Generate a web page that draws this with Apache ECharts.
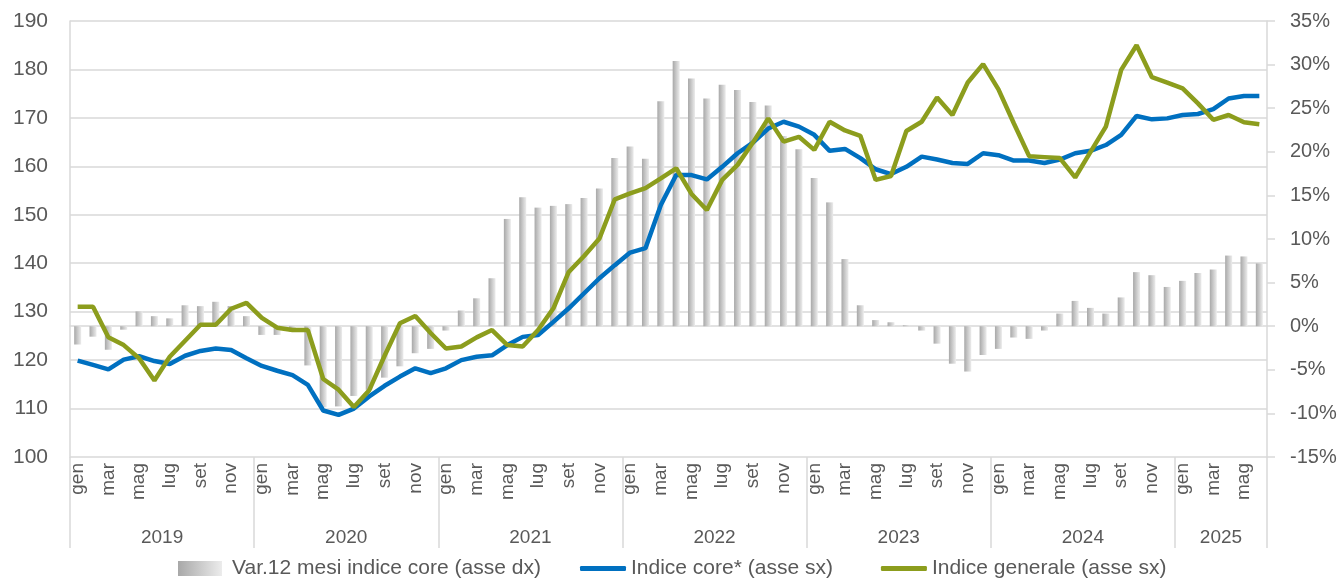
<!DOCTYPE html>
<html>
<head>
<meta charset="utf-8">
<script src="https://cdn.jsdelivr.net/npm/echarts@6/dist/echarts.min.js"></script>
<style>
  html, body { margin: 0; padding: 0; background: #fff; }
  #chart { width: 1342px; height: 581px; }
</style>
</head>
<body>
<div id="chart"></div>
<script>
// mesi (gen 2019 - giu 2025)
const monthNames = ['gen', 'feb', 'mar', 'apr', 'mag', 'giu', 'lug', 'ago', 'set', 'ott', 'nov', 'dic'];
const years = ['2019', '2020', '2021', '2022', '2023', '2024', '2025'];
const monthsPerYear = [12, 12, 12, 12, 12, 12, 6];

// Var.12 mesi indice core (asse dx), %
const varCore = [
  -2.1, -1.2, -2.7, -0.4, 1.7, 1.15, 0.9, 2.4, 2.3, 2.8, 2.3, 1.15,
  -1.0, -1.0, -0.6, -4.5, -9.3, -9.2, -8.0, -7.3, -5.9, -4.6, -3.1, -2.6,
  -0.5, 1.8, 3.2, 5.5, 12.3, 14.8, 13.6, 13.8, 14.0, 14.7, 15.8, 19.3,
  20.6, 19.2, 25.8, 30.4, 28.4, 26.1, 27.7, 27.1, 25.7, 25.3, 21.8, 20.3,
  17.0, 14.2, 7.7, 2.4, 0.7, 0.45, 0.1, -0.5, -2.0, -4.3, -5.2, -3.3,
  -2.6, -1.3, -1.45, -0.5, 1.45, 2.9, 2.1, 1.45, 3.3, 6.2, 5.85, 4.5,
  5.2, 6.1, 6.5, 8.1, 8.0, 7.2
];
// Indice core* (asse sx)
const indiceCore = [
  119.9, 119.0, 118.1, 120.1, 120.8, 119.8, 119.2, 120.9, 121.9, 122.4, 122.1, 120.4,
  118.8, 117.8, 116.9, 114.9, 109.6, 108.7, 110.0, 112.5, 114.7, 116.6, 118.3, 117.3,
  118.3, 120.0, 120.7, 121.0, 123.1, 124.8, 125.2, 127.9, 130.7, 133.8, 136.9, 139.6,
  142.2, 143.1, 152.0, 158.2, 158.2, 157.3, 159.9, 162.7, 164.9, 167.8, 169.2, 168.2,
  166.5, 163.2, 163.6, 161.7, 159.4, 158.4, 159.9, 162.0, 161.4, 160.7, 160.5, 162.7,
  162.3, 161.2, 161.2, 160.7, 161.4, 162.7, 163.2, 164.4, 166.5, 170.4, 169.7, 169.9,
  170.6, 170.8, 171.8, 174.0, 174.5, 174.5
];
// Indice generale (asse sx)
const indiceGenerale = [
  131.0, 131.0, 124.7, 123.1, 120.4, 115.8, 120.7, 124.0, 127.3, 127.3, 130.6, 131.8,
  128.7, 126.7, 126.2, 126.2, 116.1, 113.9, 110.3, 113.8, 120.9, 127.6, 129.1, 125.6,
  122.4, 122.8, 124.7, 126.2, 123.1, 122.8, 126.2, 130.7, 138.2, 141.5, 145.1, 153.2,
  154.4, 155.5, 157.5, 159.6, 154.3, 151.0, 157.2, 160.3, 164.9, 169.9, 165.1, 166.1,
  163.4, 169.2, 167.4, 166.3, 157.2, 158.0, 167.3, 169.2, 174.2, 170.6, 177.3, 181.1,
  175.9, 168.9, 162.1, 161.9, 161.7, 157.7, 163.0, 168.2, 179.9, 185.0, 178.4, 177.3,
  176.1, 173.0, 169.6, 170.6, 169.1, 168.7
];

const categories = [];
const yearBounds = [0];
const yearMids = [];
monthsPerYear.forEach((n, y) => {
  for (let m = 0; m < n; m++) categories.push(monthNames[m]);
  yearMids.push(yearBounds[y] + n / 2);
  yearBounds.push(yearBounds[y] + n);
});

const txt = '#595959';
const gridCol = '#d9d9d9';
const font = "'Liberation Sans', Arial, sans-serif";

const barColor = new echarts.graphic.LinearGradient(0, 0, 1, 0, [
  { offset: 0, color: '#a8a8a8' },
  { offset: 1, color: '#ececec' }
]);

const chart = echarts.init(document.getElementById('chart'));
chart.setOption({
  animation: false,
  textStyle: { fontFamily: font },
  grid: { left: 70, right: 75, top: 21, bottom: 124 },
  legend: [
    {
      left: 178, top: 558, padding: 0,
      itemWidth: 44, itemHeight: 15,
      textStyle: { color: txt, fontSize: 21, padding: [0, 0, 0, 5] },
      data: [{ name: 'Var.12 mesi indice core (asse dx)', icon: 'rect' }]
    },
    {
      left: 580, top: 558, padding: 0,
      itemWidth: 46, itemHeight: 5, itemGap: 48,
      textStyle: { color: txt, fontSize: 21 },
      data: [
        { name: 'Indice core* (asse sx)', icon: 'roundRect' },
        { name: 'Indice generale (asse sx)', icon: 'roundRect' }
      ]
    }
  ],
  xAxis: [
    {
      type: 'category',
      data: categories,
      boundaryGap: true,
      axisLine: { show: true, lineStyle: { color: gridCol, width: 1.5 } },
      axisTick: { show: false },
      axisLabel: {
        interval: 1, rotate: 90, margin: 6,
        color: txt, fontSize: 19
      },
      splitLine: { show: false }
    },
    {
      type: 'value',
      position: 'bottom',
      min: 0, max: categories.length,
      axisLine: { show: false },
      axisTick: {
        show: true, length: 91, customValues: yearBounds,
        lineStyle: { color: gridCol, width: 1.5 }
      },
      axisLabel: {
        show: true, customValues: yearMids, margin: 71,
        color: txt, fontSize: 19,
        formatter: v => years[yearMids.indexOf(v)]
      },
      splitLine: { show: false }
    }
  ],
  yAxis: [
    {
      type: 'value',
      min: 100, max: 190, interval: 10,
      axisLine: { show: true, lineStyle: { color: gridCol, width: 1.5 } },
      axisTick: { show: false },
      axisLabel: { color: txt, fontSize: 21, margin: 22 },
      splitLine: { lineStyle: { color: gridCol, width: 1.5 } }
    },
    {
      type: 'value',
      position: 'right',
      min: -15, max: 35, interval: 5,
      axisLine: { show: true, lineStyle: { color: gridCol, width: 1.5 } },
      axisTick: { show: true, length: 8, lineStyle: { color: gridCol, width: 1.5 } },
      axisLabel: { color: txt, fontSize: 20, margin: 23, formatter: v => v + '%' },
      splitLine: { show: false }
    }
  ],
  series: [
    {
      name: 'Var.12 mesi indice core (asse dx)',
      type: 'bar',
      yAxisIndex: 1,
      barWidth: 7,
      itemStyle: { color: barColor },
      data: varCore
    },
    {
      name: 'Indice core* (asse sx)',
      type: 'line',
      yAxisIndex: 0,
      showSymbol: false,
      symbol: 'none',
      lineStyle: { color: '#0070c0', width: 4.5 },
      itemStyle: { color: '#0070c0' },
      data: indiceCore
    },
    {
      name: 'Indice generale (asse sx)',
      type: 'line',
      yAxisIndex: 0,
      showSymbol: false,
      symbol: 'none',
      lineStyle: { color: '#8c9d1d', width: 4.5 },
      itemStyle: { color: '#8c9d1d' },
      data: indiceGenerale
    }
  ]
});
</script>
</body>
</html>
